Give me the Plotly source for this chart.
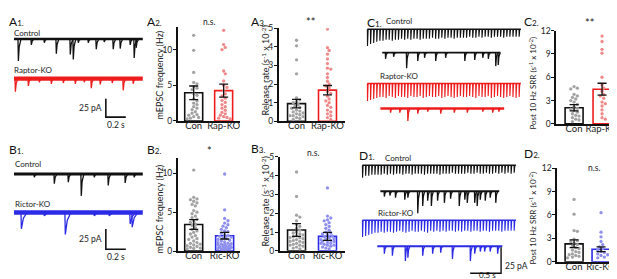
import plotly.graph_objects as go

W, H = 617, 279
FONT = "Lato"

# ------------------------------------------------------------------ data
RAP_GROUPS = ["Con", "Rap-KO"]
RIC_GROUPS = ["Con", "Ric-KO"]

# A2 mEPSC frequency (Hz)
A2_MEAN = [3.95, 4.25]
A2_SEM = [0.95, 0.9]
A2_CON = [12.0, 9.9, 6.8, 5.4, 5.2, 4.8, 4.6, 4.4, 3.8, 3.6, 3.1, 2.8, 2.5, 2.3, 2.0, 1.8, 1.6, 1.3, 1.1, 0.9, 0.8, 0.6, 0.5, 0.4, 0.3]
A2_KO = [12.7, 10.7, 10.3, 10.0, 7.0, 6.6, 5.6, 5.0, 4.7, 4.2, 3.8, 3.5, 3.2, 2.9, 2.6, 2.3, 2.0, 1.8, 1.5, 1.2, 1.0, 0.8, 0.6, 0.5, 0.4, 0.3]

# A3 release rate
A3_MEAN = [0.95, 1.67]
A3_SEM = [0.23, 0.25]
A3_CON = [4.35, 4.05, 3.3, 2.55, 1.25, 1.15, 1.05, 1.0, 0.9, 0.8, 0.75, 0.7, 0.6, 0.55, 0.5, 0.45, 0.4, 0.35, 0.3, 0.3, 0.25, 0.2, 0.15, 0.1]
A3_KO = [4.95, 3.95, 3.8, 3.6, 3.35, 3.1, 2.85, 2.8, 2.55, 2.35, 2.15, 2.0, 1.9, 1.8, 1.6, 1.5, 1.35, 1.2, 1.1, 1.0, 0.85, 0.75, 0.6, 0.5, 0.4, 0.3, 0.2, 0.1]

# C2 post 10 Hz SRR
C2_MEAN = [2.07, 4.46]
C2_SEM = [0.4, 0.77]
C2_CON = [4.8, 4.6, 4.5, 3.8, 3.6, 3.4, 3.2, 3.0, 2.8, 2.5, 2.2, 2.0, 1.9, 1.7, 1.5, 1.3, 1.1, 1.0, 0.8, 0.6, 0.5, 0.3]
C2_KO = [11.3, 10.6, 9.6, 9.1, 6.0, 5.0, 4.6, 4.2, 3.8, 3.6, 3.3, 2.8, 2.6, 2.3, 1.8, 1.3, 0.8, 0.6]

# B2 mEPSC frequency (Hz)
B2_MEAN = [3.42, 1.98]
B2_SEM = [0.63, 0.42]
B2_CON = [10.4, 6.9, 6.7, 6.6, 6.4, 6.2, 6.0, 5.8, 5.2, 5.0, 4.8, 4.5, 4.3, 4.1, 3.9, 3.7, 3.5, 3.3, 3.0, 2.8, 2.6, 2.4, 2.2, 2.0, 1.8, 1.6, 1.5, 1.3, 1.1, 1.0, 0.9, 0.8, 0.7, 0.6, 0.5, 0.4, 0.35, 0.3]
B2_KO = [9.9, 5.3, 4.2, 3.9, 3.6, 3.4, 3.2, 3.0, 2.8, 2.6, 2.5, 2.3, 2.1, 2.0, 1.9, 1.8, 1.7, 1.6, 1.5, 1.4, 1.3, 1.2, 1.1, 1.0, 0.95, 0.9, 0.85, 0.8, 0.7, 0.65, 0.6, 0.55, 0.5, 0.45, 0.4, 0.35, 0.3, 0.25, 0.2, 0.15]

# B3 release rate
B3_MEAN = [1.11, 0.77]
B3_SEM = [0.34, 0.21]
B3_CON = [4.2, 2.9, 1.9, 1.8, 1.6, 1.4, 1.3, 1.2, 1.1, 1.0, 0.95, 0.9, 0.85, 0.8, 0.75, 0.7, 0.7, 0.65, 0.6, 0.55, 0.5, 0.5, 0.45, 0.4, 0.35, 0.3, 0.3, 0.25, 0.2, 0.15, 0.1]
B3_KO = [3.35, 1.85, 1.75, 1.65, 1.6, 1.5, 1.4, 1.3, 1.2, 1.1, 1.0, 0.95, 0.9, 0.85, 0.8, 0.75, 0.7, 0.65, 0.6, 0.6, 0.55, 0.5, 0.5, 0.45, 0.4, 0.4, 0.35, 0.3, 0.3, 0.25, 0.2, 0.15, 0.1]

# D2 post 10 Hz SRR
D2_MEAN = [2.3, 1.6]
D2_SEM = [0.5, 0.3]
D2_CON = [8.0, 6.1, 4.0, 3.9, 2.9, 2.7, 2.6, 2.4, 2.2, 2.0, 1.8, 1.7, 1.5, 1.3, 1.2, 1.0, 0.9, 0.8, 0.7, 0.6, 0.5]
D2_KO = [6.3, 3.8, 3.2, 2.6, 2.2, 1.9, 1.7, 1.5, 1.3, 1.2, 1.0, 0.9, 0.8, 0.6, 0.5]

# Example traces: mini events as (time s, amplitude pA)
A1_CTRL_EVENTS = [(0.04, 30), (0.17, 8), (0.30, 5), (0.42, 20), (0.56, 21), (0.59, 28), (0.64, 5), (0.74, 5),
                  (0.82, 14), (0.90, 4), (0.99, 14), (1.06, 13), (1.16, 8), (1.20, 26), (1.22, 12)]
A1_RAP_EVENTS = [(0.01, 18), (0.14, 10), (0.25, 5), (0.37, 7), (0.49, 6), (0.61, 7), (0.70, 5), (0.77, 13),
                 (0.86, 8), (0.98, 6), (1.09, 16), (1.19, 7)]
B1_CTRL_EVENTS = [(0.20, 4), (0.40, 12), (0.54, 10), (0.67, 27), (0.80, 4), (0.94, 14), (1.11, 11), (1.20, 4)]
B1_RIC_EVENTS = [(0.07, 20), (0.30, 4), (0.51, 27), (0.80, 4), (0.95, 4), (1.16, 14), (1.18, 18)]
TRACE_DUR = 1.29

# Stimulus trains (amplitude of each response, pA) and asynchronous release events
C1_CTRL_TRAIN = [16, 14, 13, 12, 11, 11, 10, 10, 11, 10, 10, 9, 10, 9, 10, 9, 9, 10, 9, 9, 9, 8, 9, 9, 8,
                 9, 8, 8, 9, 8, 8, 8, 8, 7, 8, 8, 7, 8, 7, 7, 8, 7, 7, 7, 8, 7, 7, 7, 7, 7]
C1_RAP_TRAIN = [17, 16, 15, 14, 13, 13, 14, 12, 13, 14, 12, 13, 13, 14, 12, 13, 13, 12, 14, 13, 12, 13, 13, 12, 14,
                13, 12, 13, 14, 13, 12, 13, 13, 12, 13, 14, 12, 13, 13, 12, 14, 13, 12, 13, 14, 13, 12, 13, 14, 13]
D1_CTRL_TRAIN = [12, 10, 10, 9, 9, 9, 9, 8, 9, 8, 9, 8, 8, 9, 8, 8, 9, 8, 8, 8, 9, 8, 8, 8, 8,
                 9, 8, 8, 8, 7, 8, 8, 8, 8, 7, 8, 8, 7, 8, 8, 7, 8, 8, 7, 8, 7, 8, 7, 8, 7]
D1_RIC_TRAIN = [16, 15, 14, 13, 12, 12, 11, 12, 11, 11, 12, 11, 10, 11, 12, 11, 10, 11, 11, 10, 11, 12, 10, 11, 10,
                11, 10, 11, 10, 10, 11, 10, 11, 10, 10, 11, 10, 10, 11, 10, 10, 11, 10, 10, 10, 11, 10, 10, 10, 10]
STIM_INTERVAL = 0.05

C1_CTRL_ASYNC = [(0.37, 6), (0.50, 4), (0.71, 15), (0.89, 8), (1.00, 5), (1.18, 8), (1.34, 5), (1.65, 8),
                 (1.81, 7), (1.94, 5), (2.03, 6), (2.15, 13), (2.19, 12)]
C1_RAP_ASYNC = [(0.45, 4), (0.60, 4), (0.73, 12), (0.89, 5), (1.05, 3), (1.26, 5), (1.48, 4), (1.69, 4),
                (1.94, 3), (2.10, 4), (2.20, 3)]
D1_CTRL_ASYNC = [(0.35, 5), (0.44, 4), (0.53, 6), (0.68, 8), (0.73, 6), (0.89, 21), (0.97, 14), (1.05, 9),
                 (1.11, 14), (1.21, 9), (1.32, 11), (1.42, 7), (1.56, 14), (1.65, 8), (1.69, 11), (1.81, 11),
                 (1.85, 14), (1.90, 8), (1.98, 9), (2.06, 6), (2.15, 11)]
D1_RIC_ASYNC = [(0.35, 7), (0.48, 9), (0.69, 14), (0.73, 11), (0.97, 9), (1.13, 7), (1.26, 6), (1.45, 12),
                (1.74, 14), (1.81, 7), (1.90, 5), (1.97, 5), (2.06, 5), (2.18, 7)]

# ------------------------------------------------------------------ style
BLACK = "#111111"
RED = "#ee1c1c"
BLUE = "#2b2be6"
RED_DOT = "#f08a8a"
BLUE_DOT = "#8f8ff0"
GRAY_DOT = "#a3a3a3"
TXT = "#222222"

fig = go.Figure()
layout = {}
annotations = []


def ann(text, px, py, size=8.5, xanchor="left", yanchor="middle", angle=0, color=TXT):
    annotations.append(dict(text=text, x=px / W, y=1 - py / H, xref="paper", yref="paper",
                            xanchor=xanchor, yanchor=yanchor, showarrow=False, textangle=angle,
                            borderpad=0, font=dict(family=FONT, size=size, color=color)))


def swarm(vals, center, ppx, ppy, d=3.3, maxoff=7.0):
    cands = [0.0]
    k = 1
    while k * d * 0.5 <= maxoff:
        cands += [k * d * 0.5, -k * d * 0.5]
        k += 1
    placed = []
    xs, ys = [], []
    for v in sorted(vals, reverse=True):
        y = v * ppy
        best, bestd = 0.0, -1
        for c in cands:
            md = min([((c - a) ** 2 + (y - b) ** 2) ** 0.5 for a, b in placed], default=1e9)
            if md >= d:
                best = c
                break
            if md > bestd:
                bestd, best = md, c
        placed.append((best, y))
        xs.append(center + best / ppx)
        ys.append(v)
    return xs, ys


def bar_panel(k, ax_x, end_x, c0, c1, top_px, zero_px, ymax, tickvals, groups, means, sems,
              con_pts, ko_pts, ko_line, ko_dot):
    ppx = c1 - c0
    ppy = (zero_px - top_px) / ymax
    xr = [(ax_x - c0) / ppx, (end_x - c0) / ppx]
    xa, ya = f"x{k}", f"y{k}"
    fig.add_trace(go.Bar(x=[0, 1], y=means, width=18 / ppx, xaxis=xa, yaxis=ya,
                         marker=dict(color="rgba(255,255,255,1)", line=dict(color=[BLACK, ko_line], width=1.6))))
    for pts, col, ci in ((con_pts, GRAY_DOT, 0), (ko_pts, ko_dot, 1)):
        xs, ys = swarm(pts, ci, ppx, ppy)
        fig.add_trace(go.Scatter(x=xs, y=ys, mode="markers", xaxis=xa, yaxis=ya,
                                 marker=dict(size=3.3, color=col, line=dict(width=0))))
    fig.add_trace(go.Scatter(x=[0, 1], y=means, mode="markers", xaxis=xa, yaxis=ya,
                             marker=dict(size=1, color="rgba(0,0,0,0)"),
                             error_y=dict(type="data", array=sems, color=BLACK, thickness=1.3, width=4.5)))
    layout[f"xaxis{k}"] = dict(domain=[ax_x / W, end_x / W], range=xr, anchor=ya, showline=True,
                               linecolor=BLACK, linewidth=1.5, tickvals=[0, 1], ticktext=groups, ticks="",
                               tickfont=dict(family=FONT, size=9.5, color=TXT), showgrid=False,
                               zeroline=False, fixedrange=True, ticklabelstandoff=-5)
    layout[f"yaxis{k}"] = dict(domain=[1 - zero_px / H, 1 - top_px / H], range=[0, ymax], anchor=xa,
                               showline=True, linecolor=BLACK, linewidth=1.5, ticks="outside", ticklen=3,
                               tickwidth=1.2, tickcolor=BLACK, tickvals=tickvals,
                               tickfont=dict(family=FONT, size=8.5, color=TXT), showgrid=False,
                               zeroline=False, fixedrange=True, ticklabelstandoff=-1)


bar_panel(1, 170, 232, 186, 216, 15, 112, 13.1, [0, 5, 10], RAP_GROUPS, A2_MEAN, A2_SEM, A2_CON, A2_KO, RED, RED_DOT)
bar_panel(2, 271, 338, 289, 320, 15.7, 112.3, 5, [0, 1, 2, 3, 4, 5], RAP_GROUPS, A3_MEAN, A3_SEM, A3_CON, A3_KO, RED, RED_DOT)
bar_panel(3, 549, 612, 567, 595, 18.3, 115, 12, [0, 3, 6, 9, 12], RAP_GROUPS, C2_MEAN, C2_SEM, C2_CON, C2_KO, RED, RED_DOT)
bar_panel(4, 170, 232, 186, 217, 150, 247, 12, [0, 5, 10], RIC_GROUPS, B2_MEAN, B2_SEM, B2_CON, B2_KO, BLUE, BLUE_DOT)
bar_panel(5, 272, 338, 289, 320, 149.3, 246.7, 5, [0, 1, 2, 3, 4, 5], RIC_GROUPS, B3_MEAN, B3_SEM, B3_CON, B3_KO, BLUE, BLUE_DOT)
bar_panel(6, 550, 612, 567, 594, 161, 258, 12, [0, 3, 6, 9, 12], RIC_GROUPS, D2_MEAN, D2_SEM, D2_CON, D2_KO, BLUE, BLUE_DOT)


# ------------------------------------------------------------------ trace panels
def trace_axis(k, box, ox, sx, oy, sy):
    x0, x1, y0, y1 = box
    layout[f"xaxis{k}"] = dict(domain=[x0 / W, x1 / W], range=[(x0 - ox) / sx, (x1 - ox) / sx],
                               anchor=f"y{k}", visible=False, fixedrange=True)
    layout[f"yaxis{k}"] = dict(domain=[1 - y1 / H, 1 - y0 / H], range=[(oy - y1) / sy, (oy - y0) / sy],
                               anchor=f"x{k}", visible=False, fixedrange=True)


def line(k, xs, ys, color, width):
    fig.add_trace(go.Scatter(x=xs, y=ys, mode="lines", xaxis=f"x{k}", yaxis=f"y{k}",
                             line=dict(color=color, width=width), hoverinfo="skip"))


def mini_trace(k, base, t0, t1, events, color, noise_w, rise=0.004, decay=0.035):
    line(k, [t0, t1], [base, base], color, noise_w)
    xs, ys = [], []
    for t, a in events:
        xs += [t, t + rise, t + decay * 0.4, t + decay, None]
        ys += [base, base - a, base - a * 0.35, base, None]
    line(k, xs, ys, color, 1.3)


def train_trace(k, base, t0, amps, color):
    t_end = t0 + STIM_INTERVAL * (len(amps) - 0.4)
    line(k, [t0, t_end], [base, base], color, 1.5)
    xs, ys = [], []
    for i, a in enumerate(amps):
        t = t0 + i * STIM_INTERVAL
        xs += [t, t + 0.002, t + 0.012, None]
        ys += [base, base - a, base, None]
    line(k, xs, ys, color, 1.1)


# A1 : 100 px/s, 0.76 px/pA
trace_axis(7, (0, 140, 12, 122), 6, 100, 27, 0.76)
A1_RAP_OFFSET = -54
mini_trace(7, 0, 0, TRACE_DUR, A1_CTRL_EVENTS, BLACK, 2.6, decay=0.03)
mini_trace(7, A1_RAP_OFFSET, 0, TRACE_DUR, A1_RAP_EVENTS, RED, 4.2, decay=0.03)
line(7, [0.92, 0.92, 1.12], [-81.6, -106.6, -106.6], BLACK, 1.6)

# B1 : 100 px/s, 0.84 px/pA
trace_axis(8, (0, 140, 150, 258), 6, 100, 167, 0.84)
B1_RIC_OFFSET = -47.6
mini_trace(8, 0, 0, TRACE_DUR, B1_CTRL_EVENTS, BLACK, 2.8, decay=0.03)
mini_trace(8, B1_RIC_OFFSET, 0, TRACE_DUR, B1_RIC_EVENTS, BLUE, 4.4, decay=0.06)
line(8, [0.92, 0.92, 1.12], [-67.9, -92.9, -92.9], BLACK, 1.6)

# C1 / D1 : 62 px/s, 1.08 px/pA
trace_axis(9, (345, 525, 5, 279), 355, 62, 0, 1.08)
train_trace(9, -15.7, 0.08, C1_CTRL_TRAIN, BLACK)
mini_trace(9, -38.0, 0.32, 2.23, C1_CTRL_ASYNC, BLACK, 1.8)
train_trace(9, -67.6, 0.08, C1_RAP_TRAIN, RED)
mini_trace(9, -91.7, 0.29, 2.29, C1_RAP_ASYNC, RED, 2.4)
train_trace(9, -146.3, 0.0, D1_CTRL_TRAIN, BLACK)
mini_trace(9, -171.3, 0.29, 2.21, D1_CTRL_ASYNC, BLACK, 2.0)
train_trace(9, -199.1, 0.0, D1_RIC_TRAIN, BLUE)
mini_trace(9, -224.1, 0.24, 2.26, D1_RIC_ASYNC, BLUE, 2.0)
line(9, [1.74, 2.24, 2.24], [-250, -250, -225], BLACK, 1.4)

# ------------------------------------------------------------------ text
def panel(letter, num, px, py):
    ann(f"{letter}<span style='font-size:8px'>{num}.</span>", px, py, size=12, color="#111",
        yanchor="top")


panel("A", 1, 0, 0)
panel("A", 2, 138, 0)
panel("A", 3, 242, 0)
panel("C", 1, 359, 1)
panel("C", 2, 516, 0)
panel("B", 1, 0, 133)
panel("B", 2, 138, 133)
panel("B", 3, 242, 132)
panel("D", 1, 351, 139)
panel("D", 2, 516, 137)

ann("Control", 5, 21, 8)
ann("Raptor-KO", 5, 59, 8)
ann("Control", 6, 157, 8)
ann("Rictor-KO", 6, 198, 8)
ann("Control", 378, 8, 8)
ann("Raptor-KO", 372, 65, 8)
ann("Control", 377, 150, 8)
ann("Rictor-KO", 370, 207, 8)

ann("25 pA", 95, 99, 8.5, xanchor="right")
ann("0.2 s", 108, 116, 8.5, xanchor="center")
ann("25 pA", 95, 234, 8.5, xanchor="right")
ann("0.2 s", 108, 253, 8.5, xanchor="center")
ann("25 pA", 497, 262, 8.5)
ann("0.5 s", 480, 272, 8, xanchor="center")

ann("n.s.", 201, 9, 8.5, xanchor="center")
ann("**", 303, 9, 11, xanchor="center")
ann("**", 582, 10, 11, xanchor="center")
ann("*", 202, 143, 11, xanchor="center")
ann("n.s.", 305, 145, 8.5, xanchor="center")
ann("n.s.", 587, 161, 8.5, xanchor="center")

ann("mEPSC frequency (Hz)", 152, 64, 9, xanchor="center", angle=-90)
ann("mEPSC frequency (Hz)", 152, 203, 9, xanchor="center", angle=-90)
ann("Release rate (s<sup>-1</sup> x 10<sup>-2</sup>)", 258, 60, 9, xanchor="center", angle=-90)
ann("Release rate (s<sup>-1</sup> x 10<sup>-2</sup>)", 258, 196, 9, xanchor="center", angle=-90)
ann("Post 10 Hz SRR (s<sup>-1</sup> x 10<sup>-2</sup>)", 525, 73, 8, xanchor="center", angle=-90)
ann("Post 10 Hz SRR (s<sup>-1</sup> x 10<sup>-2</sup>)", 525, 213, 8, xanchor="center", angle=-90)

fig.update_layout(width=W, height=H, margin=dict(l=0, r=0, t=0, b=0), paper_bgcolor="white",
                  plot_bgcolor="rgba(0,0,0,0)", showlegend=False, annotations=annotations,
                  font=dict(family=FONT), barmode="overlay", **layout)
fig.write_html("out.html")
